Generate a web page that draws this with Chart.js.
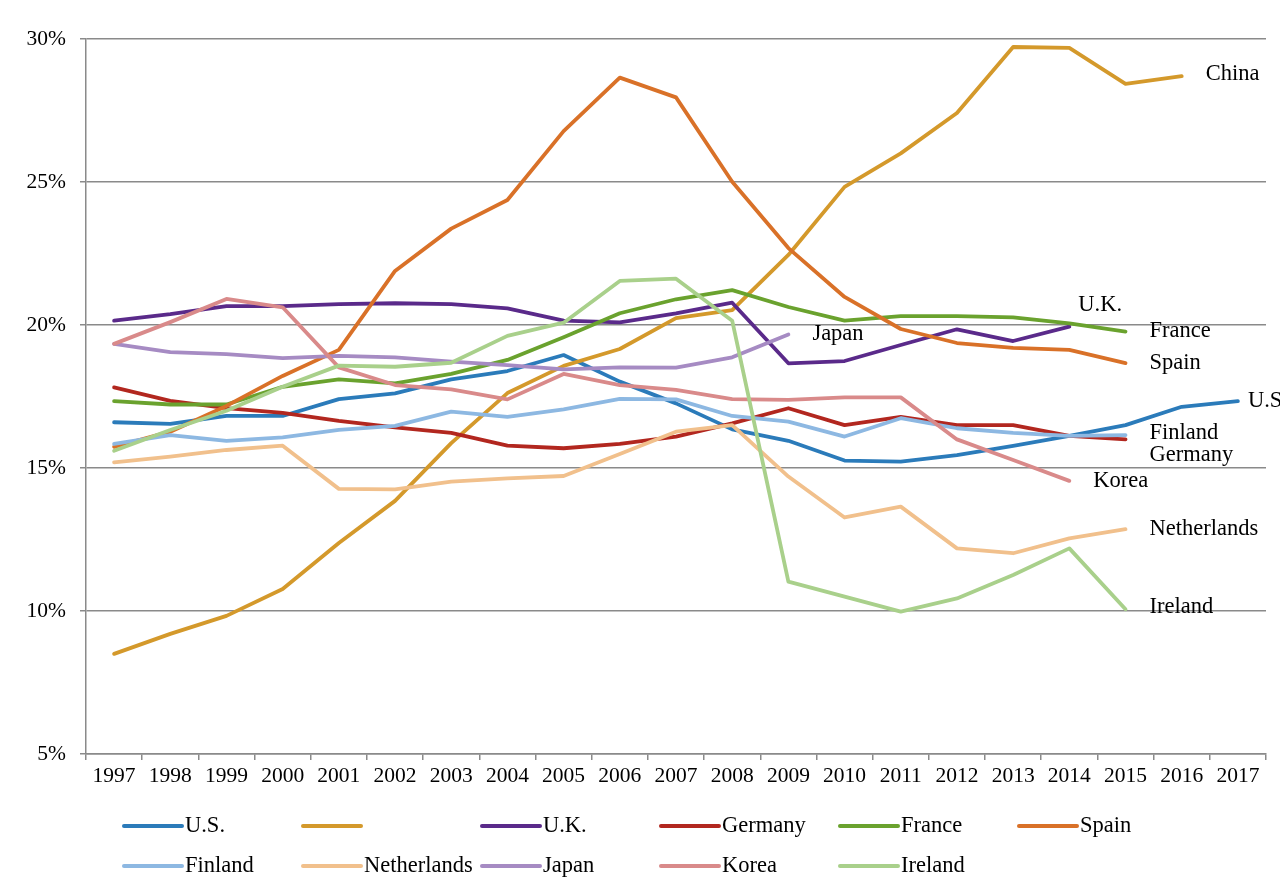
<!DOCTYPE html>
<html>
<head>
<meta charset="utf-8">
<script src="https://cdn.jsdelivr.net/npm/chart.js@4/dist/chart.umd.min.js"></script>
<style>
  html, body { margin: 0; padding: 0; background: #fff; }
  #wrap { width: 1280px; height: 878px; }
</style>
</head>
<body>
<div id="wrap"><canvas id="shareChart" width="1280" height="878"></canvas></div>
<script>
  // years on the x axis
  const years = ["1997", "1998", "1999", "2000", "2001", "2002", "2003", "2004", "2005", "2006",
    "2007", "2008", "2009", "2010", "2011", "2012", "2013", "2014", "2015", "2016", "2017"];

  // series values, in percent
  const usData = [16.6, 16.54, 16.82, 16.82, 17.41, 17.61, 18.1, 18.39, 18.95, 18.02, 17.26, 16.35, 15.95, 15.26, 15.22, 15.45, 15.77, 16.12, 16.5, 17.14, 17.34];
  const chinaData = [8.5, 9.2, 9.83, 10.77, 12.38, 13.85, 15.87, 17.62, 18.57, 19.16, 20.24, 20.52, 22.45, 24.83, 26.0, 27.41, 29.72, 29.69, 28.43, 28.7, null];
  const ukData = [20.15, 20.38, 20.66, 20.66, 20.73, 20.76, 20.73, 20.58, 20.15, 20.09, 20.41, 20.78, 18.66, 18.74, 19.3, 19.85, 19.44, 19.94, null, null, null];
  const germanyData = [17.82, 17.35, 17.09, 16.93, 16.65, 16.42, 16.23, 15.78, 15.69, 15.84, 16.1, 16.56, 17.09, 16.5, 16.79, 16.5, 16.5, 16.12, 16.0, null, null];
  const franceData = [17.34, 17.22, 17.22, 17.84, 18.1, 17.96, 18.29, 18.78, 19.57, 20.41, 20.9, 21.22, 20.63, 20.15, 20.31, 20.31, 20.27, 20.06, 19.77, null, null];
  const spainData = [15.74, 16.27, 17.17, 18.22, 19.13, 21.89, 23.37, 24.37, 26.78, 28.65, 27.96, 25.01, 22.69, 20.98, 19.86, 19.37, 19.2, 19.13, 18.67, null, null];
  const finlandData = [15.84, 16.15, 15.95, 16.07, 16.33, 16.47, 16.97, 16.79, 17.05, 17.42, 17.4, 16.82, 16.62, 16.1, 16.74, 16.39, 16.23, 16.12, 16.15, null, null];
  const netherlandsData = [15.2, 15.4, 15.63, 15.78, 14.27, 14.25, 14.52, 14.64, 14.72, 15.49, 16.27, 16.5, 14.7, 13.27, 13.65, 12.19, 12.02, 12.54, 12.86, null, null];
  const japanData = [19.34, 19.05, 18.98, 18.84, 18.92, 18.87, 18.72, 18.6, 18.45, 18.52, 18.51, 18.87, 19.67, null, null, null, null, null, null, null, null];
  const koreaData = [19.34, 20.1, 20.91, 20.62, 18.52, 17.9, 17.75, 17.4, 18.29, 17.9, 17.73, 17.41, 17.38, 17.47, 17.47, 16.0, 15.28, 14.55, null, null, null];
  const irelandData = [15.6, 16.33, 17.0, 17.84, 18.58, 18.54, 18.68, 19.62, 20.08, 21.54, 21.62, 20.15, 11.03, 10.5, 9.98, 10.44, 11.26, 12.19, 10.06, null, null];

  // y axis range / ticks
  const yMin = 5;
  const yMax = 30;
  const yStep = 5;

  const FONT = "'Liberation Serif', 'Times New Roman', serif";
  const GRID = "#8a8a8a";

  // legend text (China is blank in the original legend), end label text, colour
  const series = [
    { legend: "U.S.", end: "U.S.", data: usData, color: "#2b7bba", dx: 10, dy: 0 },
    { legend: "", end: "China", data: chinaData, color: "#d4992b", dx: 24, dy: -2 },
    { legend: "U.K.", end: "U.K.", data: ukData, color: "#5a2a8a", dx: 9, dy: -22 },
    { legend: "Germany", end: "Germany", data: germanyData, color: "#b2271f", dx: 24, dy: 16 },
    { legend: "France", end: "France", data: franceData, color: "#6aa22e", dx: 24, dy: 0 },
    { legend: "Spain", end: "Spain", data: spainData, color: "#d97128", dx: 24, dy: 0 },
    { legend: "Finland", end: "Finland", data: finlandData, color: "#8db8e2", dx: 24, dy: -2 },
    { legend: "Netherlands", end: "Netherlands", data: netherlandsData, color: "#f1c08c", dx: 24, dy: 0 },
    { legend: "Japan", end: "Japan", data: japanData, color: "#a68bc3", dx: 24, dy: 0 },
    { legend: "Korea", end: "Korea", data: koreaData, color: "#d98a8a", dx: 24, dy: 0 },
    { legend: "Ireland", end: "Ireland", data: irelandData, color: "#a9d08b", dx: 24, dy: -2 }
  ];

  // text at the right end of each line
  const endLabels = {
    id: "endLabels",
    afterDatasetsDraw(chart) {
      const ctx = chart.ctx;
      ctx.save();
      ctx.font = "22.5px " + FONT;
      ctx.fillStyle = "#000";
      ctx.textAlign = "left";
      ctx.textBaseline = "middle";
      chart.data.datasets.forEach(function (ds, i) {
        const meta = chart.getDatasetMeta(i);
        let last = -1;
        ds.data.forEach(function (v, j) { if (v !== null) last = j; });
        if (last < 0) return;
        const pt = meta.data[last];
        ctx.fillText(ds.endLabel, pt.x + ds.dx, pt.y + ds.dy);
      });
      ctx.restore();
    }
  };

  // two-row legend with fixed columns, like the original
  const gridLegend = {
    id: "gridLegend",
    afterDraw(chart) {
      const ctx = chart.ctx;
      const left = 124, colW = 179, lineLen = 58;
      const rows = [826, 866];
      ctx.save();
      ctx.font = "22.5px " + FONT;
      ctx.textBaseline = "middle";
      ctx.textAlign = "left";
      chart.data.datasets.forEach(function (ds, i) {
        const x = left + (i % 6) * colW;
        const y = rows[Math.floor(i / 6)];
        ctx.strokeStyle = ds.borderColor;
        ctx.lineWidth = 4;
        ctx.lineCap = "round";
        ctx.beginPath();
        ctx.moveTo(x, y);
        ctx.lineTo(x + lineLen, y);
        ctx.stroke();
        ctx.fillStyle = "#000";
        ctx.fillText(ds.label, x + lineLen + 3, y);
      });
      ctx.restore();
    }
  };

  const ctx = document.getElementById("shareChart").getContext("2d");
  new Chart(ctx, {
    type: "line",
    data: {
      labels: years,
      datasets: series.map(function (s, i) {
        return {
          label: s.legend,
          endLabel: s.end,
          dx: s.dx,
          dy: s.dy,
          data: s.data,
          borderColor: s.color,
          backgroundColor: s.color,
          borderWidth: 3.8,
          borderCapStyle: "round",
          borderJoinStyle: "round",
          pointRadius: 0,
          tension: 0,
          spanGaps: false,
          order: series.length - i
        };
      })
    },
    options: {
      responsive: false,
      animation: false,
      layout: { padding: { top: 39, right: 14, bottom: 0, left: 0 } },
      plugins: {
        legend: { display: false },
        tooltip: { enabled: false }
      },
      scales: {
        x: {
          type: "category",
          offset: true,
          grid: {
            offset: true,
            drawOnChartArea: false,
            drawTicks: true,
            tickLength: 6,
            color: GRID,
            lineWidth: 1.5
          },
          border: { color: GRID, width: 1.5 },
          ticks: {
            color: "#000",
            font: { family: FONT, size: 21.5 },
            padding: 3,
            maxRotation: 0,
            autoSkip: false
          },
          afterFit(scale) { scale.height = 124; }
        },
        y: {
          min: yMin,
          max: yMax,
          grid: {
            color: GRID,
            lineWidth: 1.5,
            tickLength: 6
          },
          border: { color: GRID, width: 1.5 },
          ticks: {
            stepSize: yStep,
            color: "#000",
            font: { family: FONT, size: 21.5 },
            padding: 14,
            callback: function (v) { return v + "%"; }
          },
          afterFit(scale) { scale.width = 86; }
        }
      }
    },
    plugins: [endLabels, gridLegend]
  });
</script>
</body>
</html>
